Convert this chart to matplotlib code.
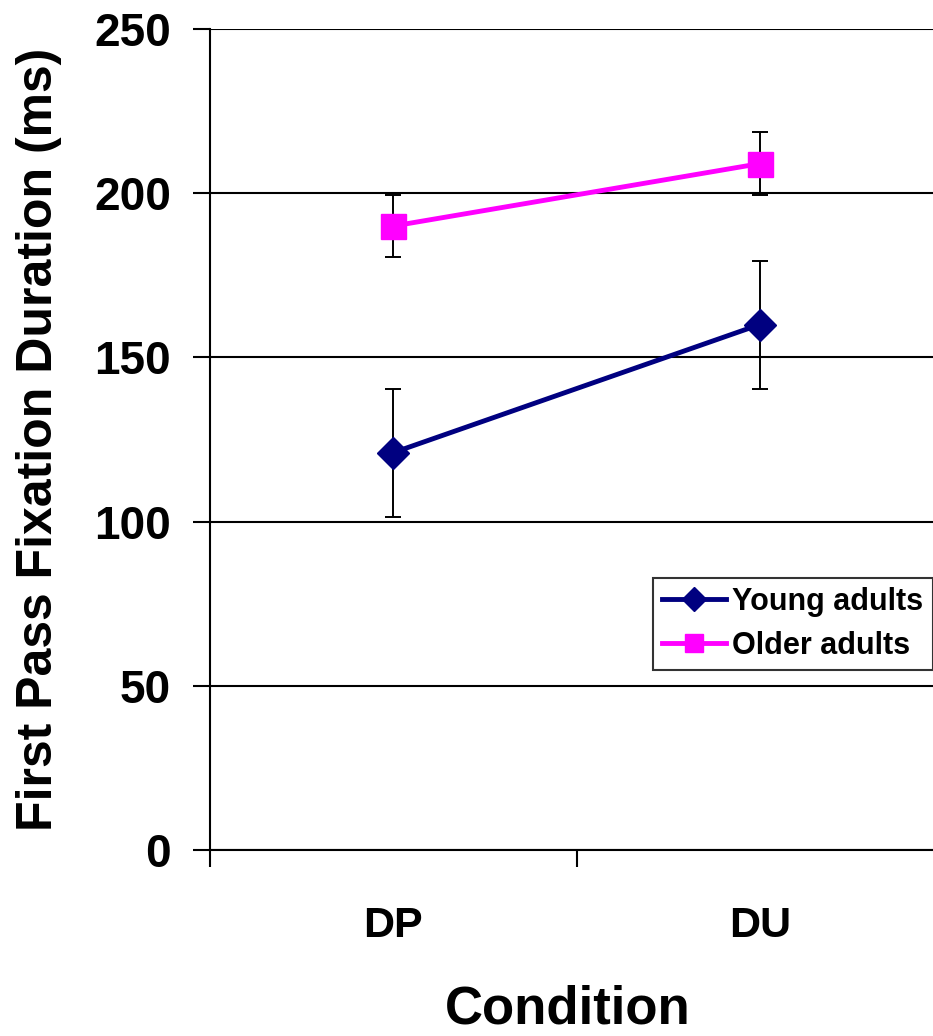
import matplotlib.pyplot as plt
import numpy as np

plt.rcParams['font.family'] = ['Liberation Sans', 'DejaVu Sans']
plt.rcParams['font.weight'] = 'bold'

conditions = ['DP', 'DU']
young_mean = [121, 160]
young_err = [19.5, 19.5]
older_mean = [190, 209]
older_err = [9.5, 9.5]
y_ticks = [0, 50, 100, 150, 200, 250]

fig = plt.figure(figsize=(9.33, 10.36), dpi=100)
ax = fig.add_axes([210 / 933, 1 - 850 / 1036, 733 / 933, 821 / 1036])

x = np.arange(len(conditions)) + 0.5

# error bars first so markers sit on top
ax.errorbar(x, young_mean, yerr=young_err, fmt='none', ecolor='black',
            elinewidth=1.4, capsize=6, capthick=1.4, zorder=3)
ax.errorbar(x, older_mean, yerr=older_err, fmt='none', ecolor='black',
            elinewidth=1.4, capsize=6, capthick=1.4, zorder=3)

ax.plot(x, young_mean, color='#000080', lw=3.5, marker='D', markersize=16,
        label='Young adults', zorder=4)
ax.plot(x, older_mean, color='#FF00FF', lw=3.5, marker='s', markersize=18,
        label='Older adults', zorder=4)

ax.set_xlim(0, 2)
ax.set_ylim(0, 250)
ax.set_yticks(y_ticks)
ax.set_yticklabels([str(t) for t in y_ticks], fontsize=33, fontweight='bold')
ax.yaxis.grid(True, color='black', lw=1.5)
ax.set_axisbelow(True)

ax.set_xticks([0, 1, 2])
ax.set_xticklabels([])
ax.set_xticks(x, minor=True)
ax.set_xticklabels(conditions, minor=True, fontsize=31, fontweight='bold')
ax.tick_params(axis='x', which='minor', length=0, pad=40)
ax.tick_params(axis='x', which='major', length=12, width=1.5, direction='out')
ax.tick_params(axis='y', length=12, width=1.5, direction='out', pad=16)

for side in ['top', 'right']:
    ax.spines[side].set_visible(False)
ax.spines['left'].set_linewidth(1.5)
ax.spines['bottom'].set_linewidth(1.5)

ax.set_xlabel('Condition', fontsize=38, fontweight='bold')
ax.xaxis.set_label_coords((568 - 210) / 733, (850 - 985) / 821)
ax.set_ylabel('First Pass Fixation Duration (ms)', fontsize=36,
              fontweight='bold')
ax.yaxis.set_label_coords((62 - 210) / 733, 0.5)

leg = ax.legend(loc='upper left', bbox_to_anchor=(653 / 933, 1 - 578 / 1036),
                bbox_transform=fig.transFigure, fontsize=22, frameon=True,
                fancybox=False, edgecolor='black', handlelength=2.1,
                handletextpad=0.2, borderpad=0.3, labelspacing=0.45,
                markerscale=0.75, borderaxespad=0)
leg.get_frame().set_linewidth(1.5)
for t in leg.get_texts():
    t.set_fontweight('bold')

fig.savefig('out.png', dpi=100)
